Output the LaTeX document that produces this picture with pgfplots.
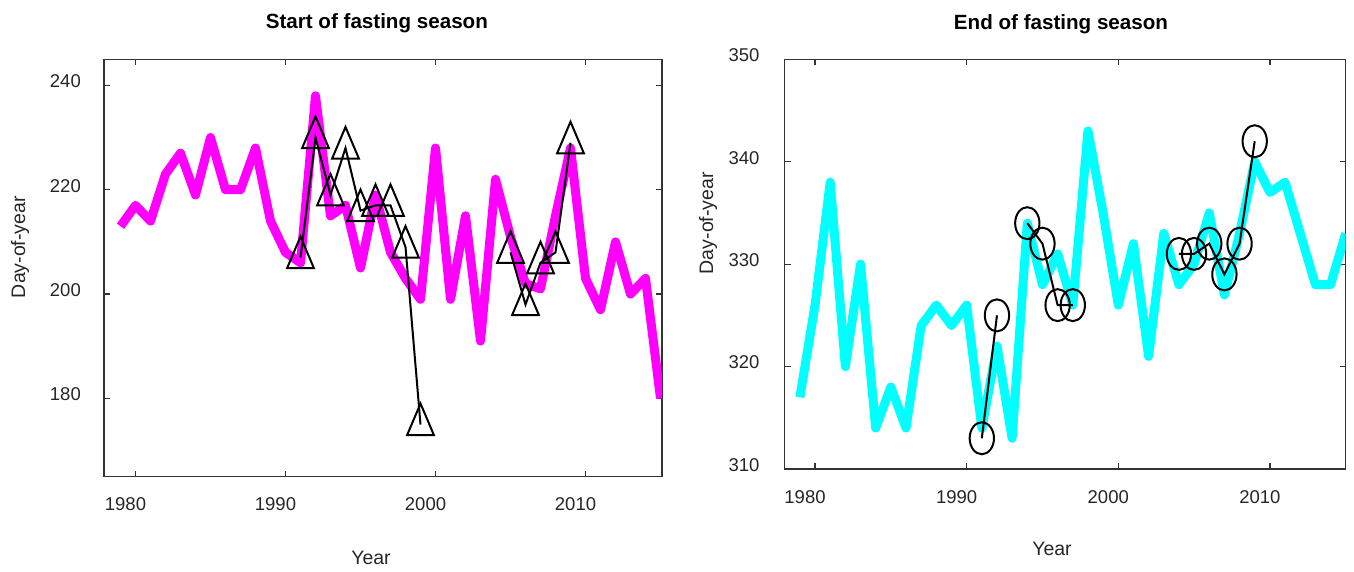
\documentclass[border=0pt]{standalone}
\usepackage{fontspec}
\setmainfont{Liberation Sans}
\usepackage{pgfplots}
\pgfplotsset{compat=1.18}

\definecolor{axgray}{HTML}{333333}
\definecolor{mag}{HTML}{FF00FF}
\definecolor{cya}{HTML}{00FFFF}

\pgfplotsset{
  fastax/.style={
    scale only axis,
    axis line style={axgray, line width=1.3pt},
    every tick/.style={axgray, line width=1.3pt},
    major tick length=6pt,
    tick align=inside,
    xtick={1980,1990,2000,2010},
    /pgf/number format/1000 sep={},
    /pgf/number format/assume math mode=true,
    tick label style={font=\fontsize{18.5}{20}\selectfont, text=black!85},
    xticklabel style={anchor=north, inner sep=0pt, yshift=-21pt, xshift=-10pt},
    label style={font=\fontsize{19.5}{22}\selectfont, text=black!85},
    title style={font=\bfseries\fontsize{20.6}{24}\selectfont, anchor=base},
  },
  tri/.style={black, line width=2pt, mark=triangle, mark size=21pt,
    mark options={xscale=0.735, solid, line width=2pt, fill=none}},
  circ/.style={black, line width=2pt, mark=o, mark size=16pt,
    mark options={xscale=0.76, solid, line width=2pt, fill=none}},
}

\begin{document}
\begin{tikzpicture}
\useasboundingbox (0,0) rectangle (1354pt,571pt);

% ---------------- Left panel ----------------
\begin{axis}[fastax,
  at={(104pt,94.3pt)}, anchor=south west,
  width=558pt, height=417.4pt,
  xmin=1977.9, xmax=2015.1, ymin=165, ymax=245,
  ytick={180,200,220,240},
  yticklabel style={anchor=east, inner sep=0pt, xshift=-23pt, yshift=4pt},
  title={Start of fasting season},
  title style={at={(axis description cs:0.489,1)}, yshift=25.3pt},
  xlabel={Year},
  xlabel style={at={(axis description cs:0.4785,0)}, anchor=base, yshift=-87.3pt},
  ylabel={Day-of-year},
  ylabel style={at={(axis description cs:-0.1505,0.55)}, anchor=center},
]
\addplot[mag, line width=9pt, line join=round, line cap=butt, no marks] coordinates {
(1979,213) (1980,217) (1981,214) (1982,223) (1983,227) (1984,219) (1985,230)
(1986,220) (1987,220) (1988,228) (1989,214) (1990,208) (1991,206) (1992,238)
(1993,215) (1994,217) (1995,205) (1996,219) (1997,208) (1998,203) (1999,199)
(2000,228) (2001,199) (2002,215) (2003,191) (2004,222) (2005,211) (2006,202)
(2007,201) (2008,215) (2009,228) (2010,203) (2011,197) (2012,210) (2013,200)
(2014,203) (2015,180)
};
\addplot[tri] coordinates {
(1991,207) (1992,230) (1993,219) (1994,228) (1995,216) (1996,217) (1997,217)
(1998,209) (1999,175)
};
\addplot[tri] coordinates {
(2005,208) (2006,198) (2007,206) (2008,208) (2009,229)
};
\end{axis}

% ---------------- Right panel ----------------
\begin{axis}[fastax,
  at={(784.7pt,102pt)}, anchor=south west,
  width=561pt, height=409.7pt,
  xmin=1978, xmax=2015, ymin=310, ymax=350,
  ytick={310,320,330,340,350},
  yticklabel style={anchor=east, inner sep=0pt, xshift=-25pt, yshift=4pt},
  title={End of fasting season},
  title style={at={(axis description cs:0.4925,1)}, yshift=24pt},
  xlabel={Year},
  xlabel style={at={(axis description cs:0.4765,0)}, anchor=base, yshift=-86pt},
  ylabel={Day-of-year},
  ylabel style={at={(axis description cs:-0.1367,0.60)}, anchor=center},
]
\addplot[cya, line width=9pt, line join=round, line cap=butt, no marks] coordinates {
(1979,317) (1980,326) (1981,338) (1982,320) (1983,330) (1984,314) (1985,318)
(1986,314) (1987,324) (1988,326) (1989,324) (1990,326) (1991,314) (1992,322)
(1993,313) (1994,334) (1995,328) (1996,331) (1997,326) (1998,343) (1999,335)
(2000,326) (2001,332) (2002,321) (2003,333) (2004,328) (2005,330) (2006,335)
(2007,327) (2008,333) (2009,340) (2010,337) (2011,338) (2012,333) (2013,328)
(2014,328) (2015,333)
};
\addplot[circ] coordinates {(1991,313) (1992,325)};
\addplot[circ] coordinates {(1994,334) (1995,332) (1996,326) (1997,326)};
\addplot[circ] coordinates {(2004,331) (2005,331) (2006,332) (2007,329) (2008,332) (2009,342)};
\end{axis}
\end{tikzpicture}
\end{document}
